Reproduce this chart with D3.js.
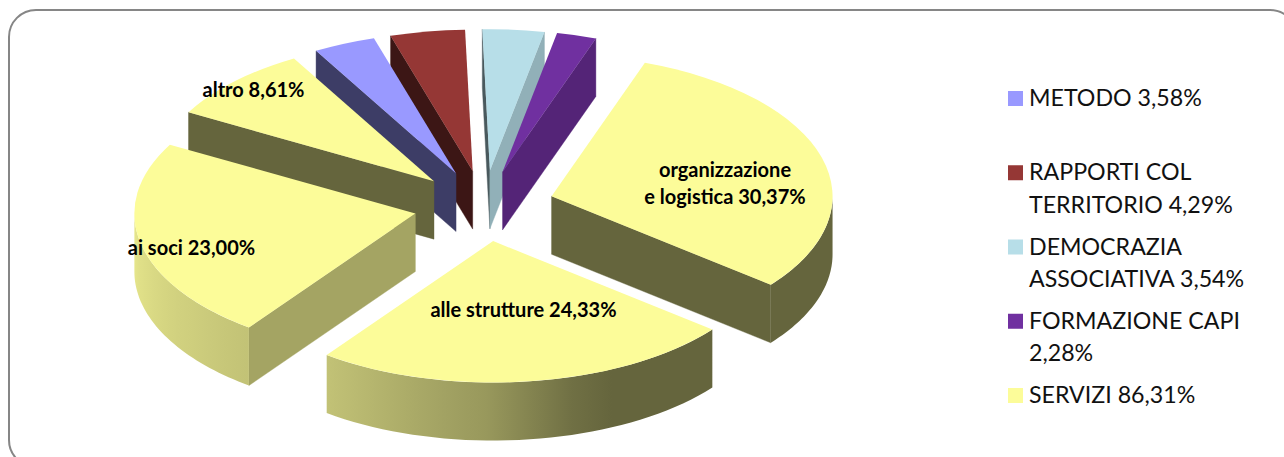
<!DOCTYPE html>
<html>
<head>
<meta charset="utf-8" />
<title>Torta</title>
<style>
  html, body { margin: 0; padding: 0; background: #fff; overflow: hidden; }
  text { font-family: Lato, "Noto Sans", sans-serif; }
</style>
<script src="https://d3js.org/d3.v7.min.js"></script>
</head>
<body>
<svg id="chart" width="1284" height="457"></svg>
<script>
// slices, clockwise from the first one
var sliceNames = ["organizzazione e logistica", "alle strutture", "ai soci", "altro", "METODO", "RAPPORTI COL TERRITORIO", "DEMOCRAZIA ASSOCIATIVA", "FORMAZIONE CAPI"];
var sliceValues = [30.37, 24.33, 23.00, 8.61, 3.58, 4.29, 3.54, 2.28];
var sliceColors = ["#FCFC99", "#FCFC99", "#FCFC99", "#FCFC99", "#9999FF", "#953735", "#B7DEE8", "#7030A0"];

// labels written on the slices
var pieLabelLines = [["organizzazione", "e logistica 30,37%"], ["alle strutture 24,33%"], ["ai soci 23,00%"], ["altro 8,61%"]];
var pieLabelX = [725, 523.5, 191.5, 253.5];
var pieLabelY = [177, 316.5, 255, 97];

// legend
var legendLines = [["METODO 3,58%"], ["RAPPORTI COL", "TERRITORIO 4,29%"], ["DEMOCRAZIA", "ASSOCIATIVA 3,54%"], ["FORMAZIONE CAPI", "2,28%"], ["SERVIZI 86,31%"]];
var legendColors = ["#9999FF", "#953735", "#B7DEE8", "#7030A0", "#FCFC99"];

var svg = d3.select("#chart");

// frame, runs off the picture at the right and bottom
svg.append("rect")
  .attr("x", 9).attr("y", 10)
  .attr("width", 1288).attr("height", 457)
  .attr("rx", 27).attr("ry", 27)
  .attr("fill", "#fff")
  .attr("stroke", "#868686")
  .attr("stroke-width", 2);

var cx = 484, cy = 206, rx = 281, ry = 141.5, depth = 58, explode = 0.25;
var deg = Math.PI / 180;
var startAngle = 19.4 * deg;

var pie = d3.pie().sort(null).value(function(d) { return d; })
  .startAngle(startAngle).endAngle(startAngle + 2 * Math.PI);
var arc = d3.arc().innerRadius(0).outerRadius(rx);

var slices = pie(sliceValues).map(function(d, i) {
  var mid = (d.startAngle + d.endAngle) / 2;
  d.i = i;
  d.mid = mid;
  d.x = cx + explode * rx * Math.sin(mid);
  d.y = cy - explode * ry * Math.cos(mid);
  return d;
});

// how dark a flat wall is, by the way it faces (degrees)
var wallShade = d3.scaleLinear().domain([100, 126, 200]).range([0.8, 0.65, 0.4]).clamp(true);
// same for the round wall
var rimShade = d3.scaleLinear().domain([159, 181, 216, 270]).range([0.4, 0.6, 0.77, 0.92]).clamp(true);

function shade(color, k) {
  var c = d3.rgb(color);
  return d3.rgb(c.r * k, c.g * k, c.b * k).formatHex();
}
function norm(a) {
  a = a % (2 * Math.PI);
  return a < 0 ? a + 2 * Math.PI : a;
}

var defs = svg.append("defs");
var line = d3.line();

// back slices first
var order = slices.slice().sort(function(a, b) { return Math.cos(b.mid) - Math.cos(a.mid); });

var g = svg.selectAll("g.slice").data(order).enter().append("g").attr("class", "slice");

g.each(function(d) {
  var sel = d3.select(this);
  var color = sliceColors[d.i];

  function rimPoint(a, dy) {
    return [d.x + rx * Math.sin(a), d.y - ry * Math.cos(a) + dy];
  }
  function flatWall(a, n) {
    var p = rimPoint(a, 0);
    sel.append("path")
      .attr("d", line([[d.x, d.y], p, [p[0], p[1] + depth], [d.x, d.y + depth]]) + "Z")
      .attr("fill", shade(color, wallShade(n / deg)))
      .attr("stroke", shade(color, wallShade(n / deg)))
      .attr("stroke-width", 0.4);
  }

  // straight walls, only the ones turned to the viewer
  if (Math.sin(d.startAngle) < 0) flatWall(d.startAngle, norm(d.startAngle - Math.PI / 2));
  if (Math.sin(d.endAngle) > 0) flatWall(d.endAngle, norm(d.endAngle + Math.PI / 2));

  // round wall, front half only
  var a0 = Math.max(d.startAngle, Math.PI / 2);
  var a1 = Math.min(d.endAngle, 3 * Math.PI / 2);
  if (a1 > a0) {
    var steps = d3.range(0, 41).map(function(k) { return a0 + (a1 - a0) * k / 40; });
    var top = steps.map(function(a) { return rimPoint(a, 0); });
    var bottom = steps.slice().reverse().map(function(a) { return rimPoint(a, depth); });

    var id = "rim" + d.i;
    var xs = top.map(function(p) { return p[0]; });
    var x0 = d3.min(xs), x1 = d3.max(xs);
    var grad = defs.append("linearGradient").attr("id", id)
      .attr("gradientUnits", "userSpaceOnUse")
      .attr("x1", x0).attr("y1", 0).attr("x2", x1).attr("y2", 0);
    steps.forEach(function(a, k) {
      if (k % 4 != 0) return;
      grad.append("stop")
        .attr("offset", x1 > x0 ? (top[k][0] - x0) / (x1 - x0) : 0)
        .attr("stop-color", shade(color, rimShade(a / deg)));
    });
    var stops = grad.selectAll("stop").nodes();
    // stops must go left to right
    stops.sort(function(a, b) { return +a.getAttribute("offset") - +b.getAttribute("offset"); });
    stops.forEach(function(n) { grad.node().appendChild(n); });

    sel.append("path")
      .attr("d", line(top.concat(bottom)) + "Z")
      .attr("fill", "url(#" + id + ")");
  }

  // top face: a flat pie squashed into an ellipse
  sel.append("path")
    .attr("d", arc(d))
    .attr("transform", "translate(" + d.x + "," + d.y + ") scale(1," + (ry / rx) + ")")
    .attr("fill", color);
});

// labels on the slices
var labels = svg.selectAll("text.pielabel").data(pieLabelLines).enter().append("text")
  .attr("class", "pielabel")
  .attr("text-anchor", "middle")
  .attr("font-size", 20)
  .attr("font-weight", 700)
  .attr("fill", "#000");
labels.selectAll("tspan").data(function(d, i) { return d.map(function(t) { return { t: t, i: i }; }); })
  .enter().append("tspan")
  .attr("x", function(d) { return pieLabelX[d.i]; })
  .attr("y", function(d, k) { return pieLabelY[d.i] + k * 27; })
  .text(function(d) { return d.t; });

// legend
var legendY = d3.scaleLinear().domain([0, legendLines.length - 1]).range([98.5, 395.5]);
var items = svg.selectAll("g.legend").data(legendLines).enter().append("g").attr("class", "legend")
  .attr("transform", function(d, i) { return "translate(1008," + legendY(i) + ")"; });
items.append("rect")
  .attr("x", 0).attr("y", -7.5).attr("width", 15).attr("height", 15)
  .attr("fill", function(d, i) { return legendColors[i]; });
items.selectAll("text").data(function(d) { return d; }).enter().append("text")
  .attr("x", 21)
  .attr("y", function(d, k) { return 7.5 + k * 32.5; })
  .attr("font-size", 23.2)
  .attr("fill", "#111")
  .text(function(d) { return d; });
</script>
</body>
</html>
